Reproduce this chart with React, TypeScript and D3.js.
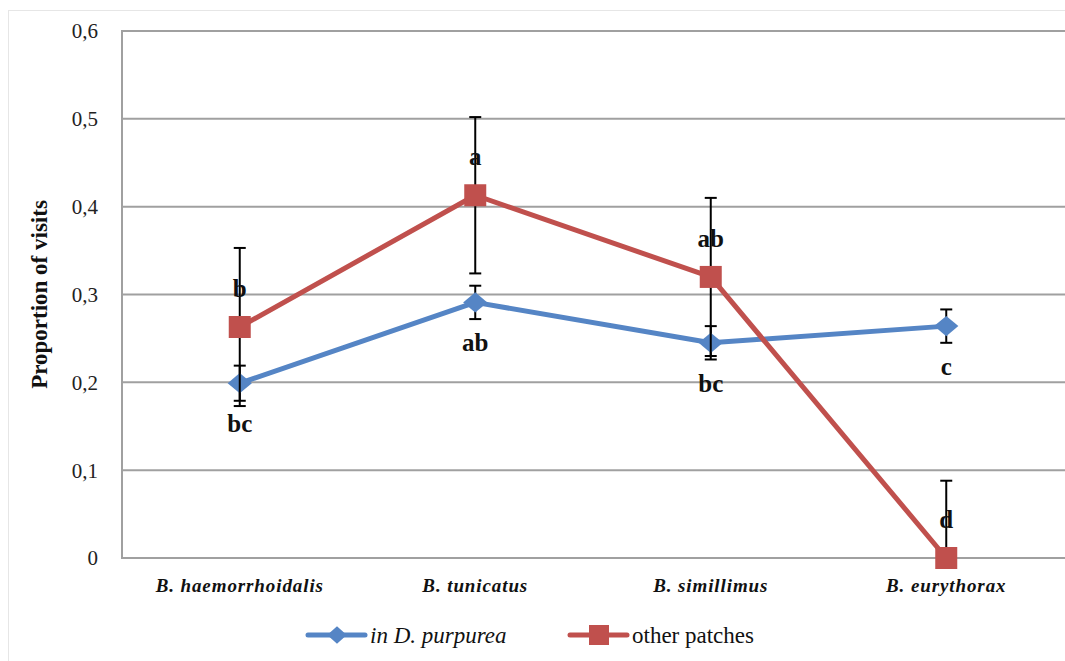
import React, { useEffect, useRef } from 'react';
import * as d3 from 'd3';

const species = ['B. haemorrhoidalis', 'B. tunicatus', 'B. simillimus', 'B. eurythorax'];
const inPurpurea = [0.199, 0.291, 0.245, 0.264];
const inPurpureaErr = [0.02, 0.019, 0.019, 0.019];
const otherPatches = [0.263, 0.413, 0.32, 0];
const otherPatchesErr = [0.09, 0.089, 0.09, 0.088];
const lettersPurpurea = ['bc', 'ab', 'bc', 'c'];
const lettersOther = ['b', 'a', 'ab', 'd'];
const yTicks = [0, 0.1, 0.2, 0.3, 0.4, 0.5, 0.6];

const BLUE = '#5585C5';
const RED = '#C0504D';
const SERIF = "'Liberation Serif', 'DejaVu Serif', 'Times New Roman', serif";

const App = () => {
  const svgRef = useRef(null);

  useEffect(() => {
    const width = 1065;
    const height = 661;
    const margin = { top: 31, right: 1, bottom: 103, left: 122 };

    const svg = d3.select(svgRef.current)
      .attr('width', width)
      .attr('height', height)
      .style('font-family', SERIF);
    svg.selectAll('*').remove();

    // chart area border
    svg.append('rect')
      .attr('x', 8.5).attr('y', 10.5)
      .attr('width', width).attr('height', height)
      .attr('fill', 'white')
      .attr('stroke', '#E6E6E6');

    const x = d3.scaleBand()
      .domain(species)
      .range([margin.left, width - margin.right]);

    const y = d3.scaleLinear()
      .domain([0, 0.6])
      .range([height - margin.bottom, margin.top]);

    const cx = d => x(d) + x.bandwidth() / 2;

    // grid
    svg.append('g')
      .selectAll('line')
      .data(yTicks)
      .enter().append('line')
      .attr('x1', margin.left)
      .attr('x2', width)
      .attr('y1', d => y(d))
      .attr('y2', d => y(d))
      .attr('stroke', '#A0A0A0')
      .attr('stroke-width', 2);

    svg.append('line')
      .attr('x1', margin.left).attr('x2', margin.left)
      .attr('y1', y(0.6) - 1).attr('y2', y(0) + 1)
      .attr('stroke', '#A0A0A0')
      .attr('stroke-width', 2);

    // y tick labels
    svg.append('g')
      .selectAll('text')
      .data(yTicks)
      .enter().append('text')
      .attr('x', 98)
      .attr('y', d => y(d))
      .attr('dy', '0.35em')
      .attr('text-anchor', 'end')
      .style('font-family', SERIF)
      .attr('font-size', 21)
      .attr('fill', '#222')
      .text(d => d === 0 ? '0' : d3.format('.1f')(d).replace('.', ','));

    svg.append('text')
      .attr('transform', `translate(47,${(y(0) + y(0.6)) / 2}) rotate(-90)`)
      .attr('text-anchor', 'middle')
      .style('font-family', SERIF)
      .attr('font-weight', 'bold')
      .attr('font-size', 23)
      .attr('fill', '#111')
      .text('Proportion of visits');

    // x labels
    svg.append('g')
      .selectAll('text')
      .data(species)
      .enter().append('text')
      .attr('x', d => cx(d))
      .attr('y', 592)
      .attr('text-anchor', 'middle')
      .style('font-family', SERIF)
      .attr('font-weight', 'bold')
      .attr('font-style', 'italic')
      .attr('font-size', 19)
      .attr('letter-spacing', 0.9)
      .attr('fill', '#111')
      .text(d => d);

    const line = d3.line()
      .x((d, i) => cx(species[i]))
      .y(d => y(d));

    const drawErr = (vals, errs) => {
      const g = svg.append('g').attr('stroke', '#000').attr('stroke-width', 2);
      vals.forEach((v, i) => {
        const xc = cx(species[i]);
        const lo = Math.max(0, v - errs[i]);
        const hi = v + errs[i];
        g.append('line').attr('x1', xc).attr('x2', xc).attr('y1', y(hi)).attr('y2', y(lo));
        g.append('line').attr('x1', xc - 6).attr('x2', xc + 6).attr('y1', y(hi)).attr('y2', y(hi));
        if (v - errs[i] > 0) {
          g.append('line').attr('x1', xc - 6).attr('x2', xc + 6).attr('y1', y(lo)).attr('y2', y(lo));
        }
      });
    };

    // blue series
    svg.append('path')
      .datum(inPurpurea)
      .attr('d', line)
      .attr('fill', 'none')
      .attr('stroke', BLUE)
      .attr('stroke-width', 5)
      .attr('stroke-linejoin', 'round');
    drawErr(inPurpurea, inPurpureaErr);
    svg.append('g')
      .selectAll('path')
      .data(inPurpurea)
      .enter().append('path')
      .attr('d', d3.symbol().type(d3.symbolDiamond2).size(260))
      .attr('transform', (d, i) => `translate(${cx(species[i])},${y(d)}) scale(1.2,1)`)
      .attr('fill', BLUE);

    // red series
    svg.append('path')
      .datum(otherPatches)
      .attr('d', line)
      .attr('fill', 'none')
      .attr('stroke', RED)
      .attr('stroke-width', 5)
      .attr('stroke-linejoin', 'round');
    drawErr(otherPatches, otherPatchesErr);
    svg.append('g')
      .selectAll('rect')
      .data(otherPatches)
      .enter().append('rect')
      .attr('x', (d, i) => cx(species[i]) - 11)
      .attr('y', d => y(d) - 11)
      .attr('width', 22)
      .attr('height', 22)
      .attr('fill', RED);

    // significance letters
    const letterStyle = sel => sel
      .attr('text-anchor', 'middle')
      .style('font-family', SERIF)
      .attr('font-weight', 'bold')
      .attr('font-size', 25)
      .attr('fill', '#111');

    svg.append('g')
      .selectAll('text')
      .data(lettersPurpurea)
      .enter().append('text')
      .attr('x', (d, i) => cx(species[i]))
      .attr('y', (d, i) => y(inPurpurea[i]) + 49)
      .call(letterStyle)
      .text(d => d);

    svg.append('g')
      .selectAll('text')
      .data(lettersOther)
      .enter().append('text')
      .attr('x', (d, i) => cx(species[i]))
      .attr('y', (d, i) => y(otherPatches[i]) - 30)
      .call(letterStyle)
      .text(d => d);

    // legend
    const legend = svg.append('g');
    const items = [
      { label: ['in', ' D. purpurea'], color: BLUE, x0: 308, marker: 'diamond' },
      { label: ['other patches'], color: RED, x0: 570, marker: 'square' },
    ];
    items.forEach(it => {
      const ly = 635;
      legend.append('line')
        .attr('x1', it.x0).attr('x2', it.x0 + 57)
        .attr('y1', ly).attr('y2', ly)
        .attr('stroke', it.color).attr('stroke-width', 5).attr('stroke-linecap', 'round');
      if (it.marker === 'diamond') {
        legend.append('path')
          .attr('d', d3.symbol().type(d3.symbolDiamond2).size(200))
          .attr('transform', `translate(${it.x0 + 29},${ly}) scale(1.1,1)`)
          .attr('fill', it.color);
      } else {
        legend.append('rect')
          .attr('x', it.x0 + 19).attr('y', ly - 10)
          .attr('width', 20).attr('height', 20)
          .attr('fill', it.color);
      }
      const t = legend.append('text')
        .attr('x', it.x0 + 62)
        .attr('y', ly + 8)
        .style('font-family', SERIF)
        .attr('font-size', 23)
        .attr('fill', '#111');
      if (it.label.length > 1) {
        t.append('tspan').attr('font-style', 'italic').text(it.label[0]);
        t.append('tspan').attr('font-style', 'italic').text(it.label[1]);
      } else {
        t.text(it.label[0]);
      }
    });
  }, []);

  return (
    <svg ref={svgRef} style={{ position: 'absolute', left: 0, top: 0, display: 'block' }}></svg>
  );
};

export default App;
